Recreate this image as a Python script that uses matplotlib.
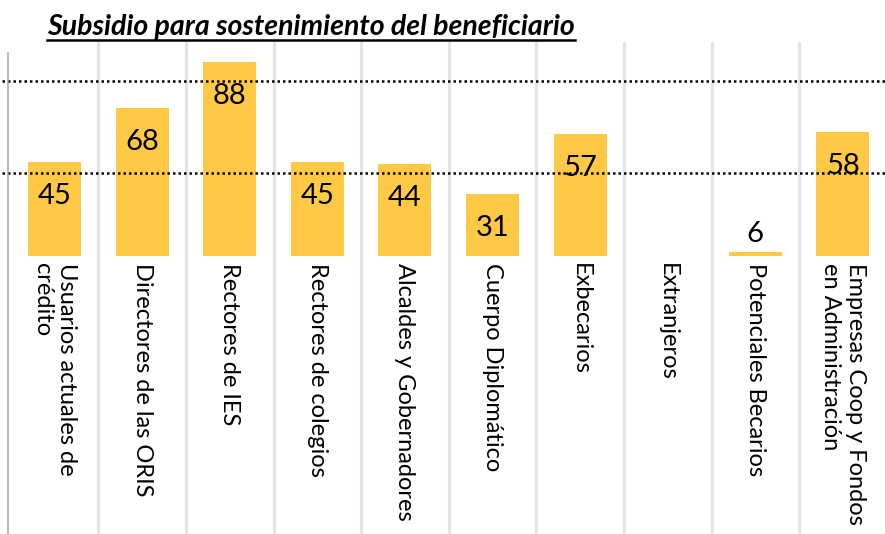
import numpy as np
import matplotlib
matplotlib.use("Agg")
import matplotlib.pyplot as plt
from matplotlib.lines import Line2D

plt.rcParams['font.family'] = ['Lato', 'DejaVu Sans']

categories = [
    "Usuarios actuales de\ncrédito",
    "Directores de las ORIS",
    "Rectores de IES",
    "Rectores de colegios",
    "Alcaldes y Gobernadores",
    "Cuerpo Diplomático",
    "Exbecarios",
    "Extranjeros",
    "Potenciales Becarios",
    "Empresas Coop y Fondos\nen Administración",
]
values = [45, 68, 88, 45, 44, 31, 57, np.nan, 6, 58]
gridlines = [40, 80]
title = "Subsidio para sostenimiento del beneficiario"

W, H, DPI = 885, 534, 100
fig = plt.figure(figsize=(W / DPI, H / DPI), dpi=DPI)

# geometry (pixels)
ax_left, ax_right, ax_top = 10.7, 886.7, 43
base = 4.27          # value at the bar baseline
scale = 2.317        # pixels per unit
base_px = 256        # baseline position from top
ymin = base - (H - base_px) / scale
ymax = base + (base_px - ax_top) / scale

ax = fig.add_axes([ax_left / W, 0, (ax_right - ax_left) / W, (H - ax_top) / H])
n = len(categories)
x = np.arange(n)
ax.set_xlim(-0.5, n - 0.5)
ax.set_ylim(ymin, ymax)
for s in ax.spines.values():
    s.set_visible(False)
ax.set_xticks([])
ax.set_yticks([])

# vertical category separators
for i in range(1, n + 1):
    ax.axvline(i - 0.5, color='#E4E4E4', lw=2.2, zorder=0, clip_on=False)
# left axis line
fig.add_artist(Line2D([8.3 / W, 8.3 / W], [0, 1 - 53 / H], color='#A6A6A6', lw=1.1,
                      transform=fig.transFigure))

vals = np.array(values, dtype=float)
mask = ~np.isnan(vals)
ax.bar(x[mask], vals[mask] - base, bottom=base, width=0.605, color='#FFC845', zorder=2)

pt = 72 / DPI
for xi, v in zip(x, vals):
    if np.isnan(v):
        continue
    if (v - base) * scale < 45:
        off = 18 * pt
    else:
        off = -34 * pt
    ax.annotate(f"{v:.0f}", xy=(xi, v), xytext=(0, off), textcoords='offset points',
                ha='center', va='center', fontsize=21, color='black', zorder=3)

for xi, lab in zip(x, categories):
    ax.annotate(lab, xy=(xi, base), xytext=(0, -7 * pt), textcoords='offset points',
                rotation=-90, ha='center', va='top', multialignment='left',
                fontsize=17, color='black', zorder=3, linespacing=1.2)

for g in gridlines:
    ax.axhline(g, xmin=-9 / 876, xmax=1, color='black', lw=1.8, ls=(0, (1, 1.2)),
               zorder=5, clip_on=False)

t = fig.text(47 / W, 1 - 35 / H, title, fontsize=20.5, fontweight='bold', fontstyle='italic',
             ha='left', va='baseline')
fig.canvas.draw()
bb = t.get_window_extent()
uy = 1 - 40 / H
fig.add_artist(Line2D([bb.x0 / W, bb.x1 / W], [uy, uy], color='black', lw=1.8, transform=fig.transFigure))

fig.savefig('out.png', dpi=DPI)
